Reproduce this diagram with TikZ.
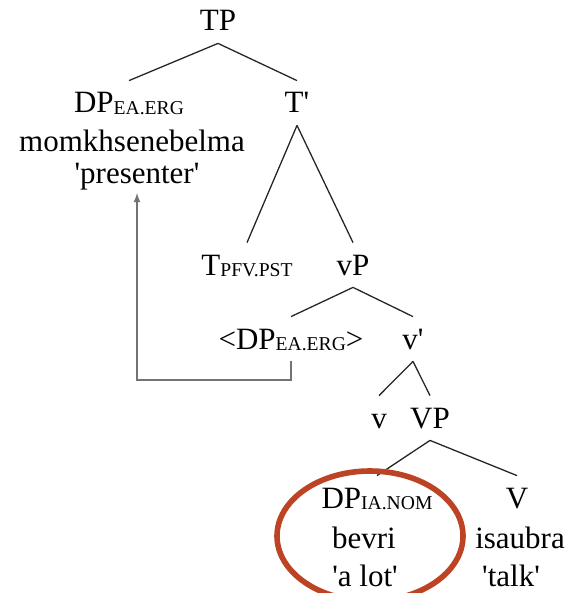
\documentclass[tikz,border=0pt]{standalone}
\usepackage{fontspec}
\setmainfont{Liberation Serif}
\usepackage{xcolor}
\usetikzlibrary{arrows}

\definecolor{ringred}{RGB}{188,68,36}
\definecolor{movegray}{RGB}{115,115,115}
% 下标（小型大写）与直引号
\newcommand{\gsub}[1]{\raisebox{-0.6pt}{\fontsize{9.8}{11}\selectfont #1}}
\newcommand{\sq}[1]{\textquotesingle#1\textquotesingle}

\begin{document}
\begin{tikzpicture}[x=0.5pt,y=-0.5pt,
    font=\fontsize{15.5}{18}\selectfont,
    cat/.style={anchor=base,inner xsep=1pt,inner ysep=4pt,text height=12pt,text depth=2pt},
    word/.style={anchor=base,inner sep=1pt},
    branch/.style={line width=0.65pt,black!85},
    move/.style={movegray,line width=0.6pt,-latex},
    ring/.style={ringred,line width=2.8pt}]
    \useasboundingbox (0,0) rectangle (569,593);
    \clip (0,0) rectangle (569,593);

    % 定义树的节点
    \node[cat] (TP) at (218,31) {TP};
    \node[cat] (DPea) at (129,113) {DP\gsub{EA.ERG}};
    \node[word] (momkh) at (132,152) {momkhsenebelma};
    \node[word] (presenter) at (137,184) {\sq{presenter}};
    \node[cat] (Tbar) at (297,113) {T\textquotesingle};
    \node[cat] (Tpfv) at (247,275) {T\gsub{PFV.PST}};
    \node[cat] (vP) at (353,275) {vP};
    \node[cat] (trace) at (291,349) {<DP\gsub{EA.ERG}>};
    \node[cat] (vbar) at (413,349) {v\textquotesingle};
    \node[cat] (v) at (379,428) {v};
    \node[cat] (VP) at (430,428) {VP};
    \node[cat] (DPia) at (377,508) {DP\gsub{IA.NOM}};
    \node[word] (bevri) at (364,548) {bevri};
    \node[word] (alot) at (365,586) {\sq{a lot}};
    \node[cat] (V) at (517,508) {V};
    \node[word] (isaubra) at (520,548) {isaubra};
    \node[word] (talk) at (511,586) {\sq{talk}};

    % 使用节点名连线
    \draw[branch] (TP.south) -- (DPea.north);
    \draw[branch] (TP.south) -- (Tbar.north);
    \draw[branch] (Tbar.south) -- (Tpfv.north);
    \draw[branch] (Tbar.south) -- (vP.north);
    \draw[branch] (vP.south) -- (trace.north);
    \draw[branch] (vP.south) -- (vbar.north);
    \draw[branch] (vbar.south) -- (v.north);
    \draw[branch] (vbar.south) -- (VP.north);
    \draw[branch] (VP.south) -- (DPia.north);
    \draw[branch] (VP.south) -- (V.north);

    % 移位箭头
    \coordinate (bend) at (137,380);
    \draw[move] (trace.south) |- (bend) -- (presenter.south);

    % 圈出 DP
    \draw[ring] (370,536) ellipse (93 and 65);

\end{tikzpicture}
\end{document}
